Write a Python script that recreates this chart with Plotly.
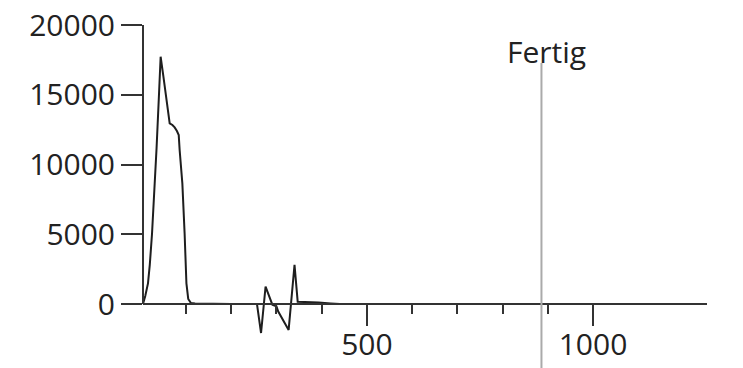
import plotly.graph_objects as go

# Signal trace (time vs. counts)
time_vals = [5, 10, 16, 20, 25, 30, 35, 40, 44, 50, 56, 64, 70, 75, 80, 84, 86, 89, 92, 97, 101, 105, 111, 120,
             150, 200, 257, 266, 276, 291, 300, 304, 327, 340, 347, 367, 393, 420, 440, 480, 600, 800, 1000, 1250]
count_vals = [0, 570, 1480, 2800, 5070, 7960, 11180, 14770, 17730, 16340, 14950, 12950, 12830, 12660, 12400, 12110,
              11040, 9900, 8650, 5070, 1480, 360, 70, 30,
              0, 0, 0, -2080, 1240, -50, -170, -540, -1860, 2800, 165, 150, 110, 40, 0, 0, 0, 0, 0, 0]

# Marker for the finishing time
done_time = 886
done_label = "Fertig"

y_ticks = [0, 5000, 10000, 15000, 20000]
y_ticktext = ["0", "5000", "10000", "15000", "20000"]
x_major_ticks = [500, 1000]
x_major_text = ["500", "1000"]
x_minor_ticks = [100, 200, 300, 400, 600, 700, 800, 900]

W, H = 743, 368
left, right, top, bottom = 143, 36.3, 25, 23
plot_h = H - top - bottom
zero_px = 304
frac_zero = (H - bottom - zero_px) / plot_h
y_max = 20000
per_px = y_max / (zero_px - top)
y_min = -(H - bottom - zero_px) * per_px
x_range = [5, 1252]

font = dict(family="Open Sans", size=30, color="#222222")
axis_col = "#333333"

fig = go.Figure()
fig.add_trace(go.Scatter(x=time_vals, y=count_vals, mode="lines",
                         line=dict(color="#1e1e1e", width=2), showlegend=False))

fig.update_layout(
    width=W, height=H,
    margin=dict(l=left, r=right, t=top, b=bottom, autoexpand=False),
    paper_bgcolor="white", plot_bgcolor="white",
    font=font,
    xaxis=dict(range=x_range, anchor="free", position=frac_zero, showgrid=False, zeroline=False,
               automargin=False, showline=True, linecolor=axis_col, linewidth=2,
               tickmode="array", tickvals=x_major_ticks, ticktext=x_major_text,
               ticks="outside", ticklen=21, tickwidth=2, tickcolor=axis_col, tickfont=font,
               ticklabelstandoff=-7,
               minor=dict(tickmode="array", tickvals=x_minor_ticks, ticks="outside",
                          ticklen=9, tickwidth=2, tickcolor=axis_col, showgrid=False)),
    yaxis=dict(range=[y_min, y_max], showgrid=False, zeroline=False, automargin=False,
               showline=False, tickmode="array", tickvals=y_ticks, ticktext=y_ticktext,
               ticks="outside", ticklen=21, tickwidth=2, tickcolor=axis_col, tickfont=font),
)

# y axis spine only over the positive range
fig.add_shape(type="line", xref="paper", yref="y", x0=0, x1=0, y0=0, y1=y_max,
              line=dict(color=axis_col, width=2), layer="above")

done_frac = (done_time - x_range[0]) / (x_range[1] - x_range[0])
fig.add_shape(type="line", xref="paper", yref="paper", x0=done_frac, x1=done_frac,
              y0=(H - bottom - H) / plot_h, y1=(H - bottom - 63) / plot_h,
              line=dict(color="#aaaaaa", width=2), layer="above")
fig.add_annotation(x=done_frac, xref="paper", xshift=5, y=(H - bottom - 52) / plot_h, yref="paper",
                   text=done_label, showarrow=False, font=font, xanchor="center", yanchor="middle")

fig.write_html("out.html")
